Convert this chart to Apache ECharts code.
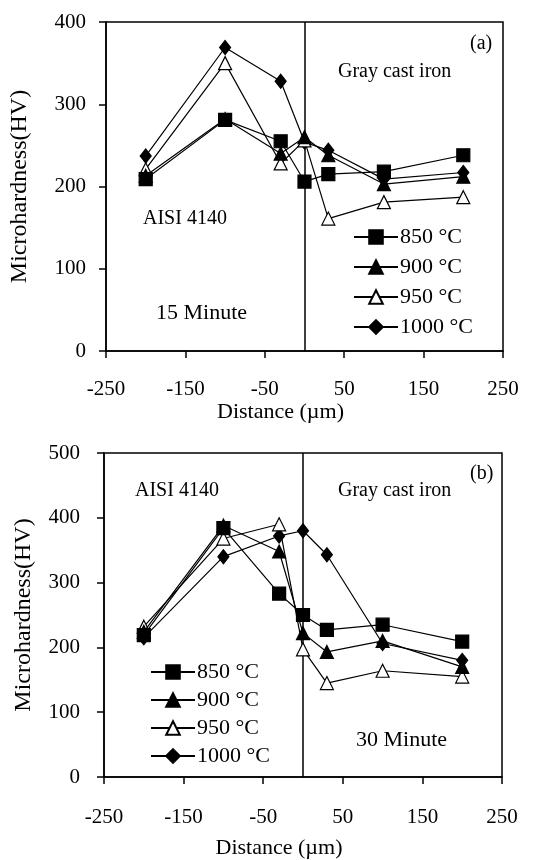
<!DOCTYPE html>
<html>
<head>
<meta charset="utf-8">
<script src="https://cdn.jsdelivr.net/npm/echarts@6/dist/echarts.min.js"></script>
<style>
  html, body { margin: 0; padding: 0; background: #fff; }
  #main { width: 539px; height: 860px; }
</style>
</head>
<body>
<div id="main"></div>
<script>
// distance from the interface (µm)
const distances = [-200, -100, -30, 0, 30, 100, 200];

// (a) 15 minute
const hv850_15 = [209, 281, 255, 206, 215, 218, 238];
const hv900_15 = [213, 282, 240, 260, 238, 203, 212];
const hv950_15 = [221, 350, 228, 256, 161, 181, 187];
const hv1000_15 = [237, 369, 328, 254, 244, 209, 217];

// (b) 30 minute
const hv850_30 = [219, 384, 283, 250, 227, 235, 209];
const hv900_30 = [224, 388, 348, 222, 193, 210, 170];
const hv950_30 = [232, 368, 390, 197, 145, 164, 155];
const hv1000_30 = [215, 340, 372, 380, 343, 206, 180];

const tempNames = ["850 °C", "900 °C", "950 °C", "1000 °C"];
const xTicks = [-250, 250, 100];

const FONT = "Liberation Serif";

const styles = [
  { symbol: "rect", symbolSize: 13, fill: "#000" },
  { symbol: "triangle", symbolSize: 13, fill: "#000" },
  { symbol: "triangle", symbolSize: 13, fill: "#fff" },
  { symbol: "diamond", symbolSize: [11, 14], fill: "#000" },
];

function pairs(ys) {
  return distances.map((x, i) => [x, ys[i]]);
}

function makeSeries(sets, idx) {
  return sets.map((ys, i) => {
    const s = {
      name: tempNames[i],
      type: "line",
      xAxisIndex: idx,
      yAxisIndex: idx,
      data: pairs(ys),
      symbol: styles[i].symbol,
      symbolSize: styles[i].symbolSize,
      lineStyle: { color: "#000", width: 1.2 },
      itemStyle: { color: styles[i].fill, borderColor: "#000", borderWidth: 1.2 },
      emphasis: { disabled: true },
      animation: false,
      z: 10 - i,
    };
    if (i === 0) {
      // interface line at x = 0
      s.markLine = {
        silent: true,
        symbol: "none",
        label: { show: false },
        lineStyle: { color: "#000", width: 1.5, type: "solid" },
        data: [{ xAxis: 0 }],
      };
    }
    return s;
  });
}

function xAxis(idx, nameGap, margin) {
  return {
    type: "value",
    gridIndex: idx,
    min: xTicks[0],
    max: xTicks[1],
    interval: xTicks[2],
    name: "Distance (µm)",
    nameLocation: "middle",
    nameGap: nameGap,
    nameTextStyle: { fontFamily: FONT, fontSize: 22, color: "#000", padding: [0, 48, 0, 0] },
    axisLine: { show: true, onZero: false, lineStyle: { color: "#000", width: 1.5 } },
    axisTick: { show: true, inside: false, length: 7, lineStyle: { color: "#000", width: 1.5 } },
    axisLabel: { fontFamily: FONT, fontSize: 21, color: "#000", margin: margin },
    splitLine: { show: false },
  };
}

function yAxis(idx, max, nameGap, margin) {
  return {
    type: "value",
    gridIndex: idx,
    min: 0,
    max: max,
    interval: 100,
    name: "Microhardness(HV)",
    nameLocation: "middle",
    nameGap: nameGap,
    nameTextStyle: { fontFamily: FONT, fontSize: 24, color: "#000" },
    axisLine: { show: true, onZero: false, lineStyle: { color: "#000", width: 1.5 } },
    axisTick: { show: true, inside: false, length: 7, lineStyle: { color: "#000", width: 1.5 } },
    axisLabel: { fontFamily: FONT, fontSize: 21, color: "#000", margin: margin },
    splitLine: { show: false },
  };
}

function legend(left, top, gap) {
  return {
    data: tempNames,
    orient: "vertical",
    left: left,
    top: top,
    itemWidth: 44,
    itemHeight: 17,
    itemGap: gap,
    padding: 0,
    selectedMode: false,
    textStyle: { fontFamily: FONT, fontSize: 22, color: "#000", padding: [0, 0, 0, -3] },
  };
}

function label(text, x, y, size) {
  return {
    type: "text",
    left: x,
    top: y,
    style: { text: text, fontFamily: FONT, fontSize: size, fill: "#000" },
  };
}

const chart = echarts.init(document.getElementById("main"));
chart.setOption({
  backgroundColor: "#fff",
  animation: false,
  grid: [
    { left: 106, top: 22, width: 397, height: 329, show: true, borderColor: "#000", borderWidth: 1.5 },
    { left: 104, top: 453, width: 398, height: 324, show: true, borderColor: "#000", borderWidth: 1.5 },
  ],
  xAxis: [xAxis(0, 48, 28), xAxis(1, 60, 30)],
  yAxis: [yAxis(0, 400, 74, 20), yAxis(1, 500, 68, 24)],
  legend: [legend(353, 226, 8), legend(150, 661, 6)],
  graphic: [
    label("(a)", 470, 34, 20),
    label("Gray cast iron", 338, 62, 20),
    label("AISI 4140", 143, 209, 20),
    label("15 Minute", 156, 302, 22),
    label("(b)", 470, 464, 20),
    label("AISI 4140", 135, 481, 20),
    label("Gray cast iron", 338, 481, 20),
    label("30 Minute", 356, 729, 22),
  ],
  series: [
    ...makeSeries([hv850_15, hv900_15, hv950_15, hv1000_15], 0),
    ...makeSeries([hv850_30, hv900_30, hv950_30, hv1000_30], 1),
  ],
});
</script>
</body>
</html>
